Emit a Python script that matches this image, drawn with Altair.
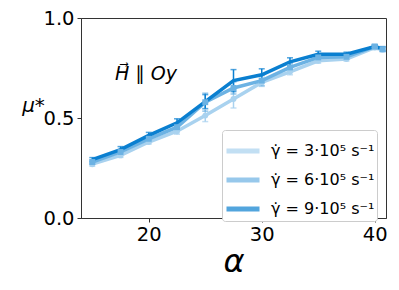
import altair as alt
import pandas as pd

alpha = [15, 17.5, 20, 22.5, 25, 27.5, 30, 32.5, 35, 37.5, 40, 40.7]
mu_3 = [0.269, 0.313, 0.380, 0.434, 0.512, 0.595, 0.678, 0.731, 0.786, 0.795, 0.852, 0.841]
err_3 = [0.010, 0.010, 0.010, 0.015, 0.030, 0.045, 0.020, 0.015, 0.012, 0.010, 0.010, 0.010]
mu_6 = [0.280, 0.330, 0.396, 0.454, 0.579, 0.650, 0.687, 0.753, 0.803, 0.806, 0.857, 0.844]
err_6 = [0.010, 0.010, 0.015, 0.015, 0.045, 0.030, 0.025, 0.020, 0.015, 0.012, 0.010, 0.010]
mu_9 = [0.292, 0.342, 0.413, 0.476, 0.582, 0.687, 0.716, 0.781, 0.819, 0.819, 0.857, 0.847]
err_9 = [0.010, 0.015, 0.015, 0.020, 0.035, 0.055, 0.030, 0.020, 0.015, 0.010, 0.010, 0.010]

labels = ["γ̇ = 3·10⁵ s⁻¹", "γ̇ = 6·10⁵ s⁻¹", "γ̇ = 9·10⁵ s⁻¹"]
colors = ["#a9d2ef", "#6cb2e3", "#0a7fd0"]

ann_x = [17.0]
ann_y = [0.72]
ann_text = ["H⃗ ∥ Oy"]

rows = []
for lab, mus, errs in zip(labels, [mu_3, mu_6, mu_9], [err_3, err_6, err_9]):
    for a, m, e in zip(alpha, mus, errs):
        rows.append({"alpha": a, "mu": m, "lo": m - e, "hi": m + e, "series": lab})
df = pd.DataFrame(rows)
ann = pd.DataFrame({"x": ann_x, "y": ann_y, "t": ann_text})

xs = alt.Scale(domain=[14, 41], nice=False, zero=False)
ys = alt.Scale(domain=[0, 1], nice=False, zero=False)
cs = alt.Scale(domain=labels, range=colors)

X = alt.X("alpha:Q", scale=xs, title="α",
          axis=alt.Axis(values=[20, 30, 40], format="d", titleFontStyle="italic",
                        titleFontSize=32, titleFontWeight="normal", titlePadding=3))
Y = alt.Y("mu:Q", scale=ys, title="μ*",
          axis=alt.Axis(values=[0, 0.5, 1.0], format=".1f", titleAngle=0,
                        titleFontStyle="italic", titleFontSize=20, titleFontWeight="normal",
                        titleX=-48, titleY=93, titleAlign="center", titleBaseline="alphabetic"))
Xp = alt.X("alpha:Q", scale=xs)
C = alt.Color("series:N", scale=cs, sort=labels)

base = alt.Chart(df)

lines = base.mark_line(strokeWidth=3.5).encode(
    x=X, y=Y,
    color=alt.Color("series:N", scale=cs, sort=labels,
                    legend=alt.Legend(title=None, orient="none", legendX=141, legendY=112,
                                      symbolType="stroke", symbolStrokeWidth=5,
                                      symbolSize=1089, labelFontSize=16, labelFont="DejaVu Sans",
                                      rowPadding=-8, fillColor="white", strokeColor="#cccccc",
                                      cornerRadius=3, padding=2, labelOffset=9)),
    order=alt.Order("alpha:Q"),
)

rules = base.mark_rule(strokeWidth=1.5).encode(
    x=Xp, y=alt.Y("lo:Q", scale=ys), y2="hi:Q", color=C)
cap_lo = base.mark_tick(thickness=1.5, size=6, orient="horizontal").encode(
    x=Xp, y=alt.Y("lo:Q", scale=ys), color=C)
cap_hi = base.mark_tick(thickness=1.5, size=6, orient="horizontal").encode(
    x=Xp, y=alt.Y("hi:Q", scale=ys), color=C)

circles = base.transform_filter(alt.datum.series == labels[0]).mark_point(
    filled=True, size=35, opacity=1, shape="circle").encode(
    x=Xp, y=alt.Y("mu:Q", scale=ys), color=C)
squares = base.transform_filter(alt.datum.series == labels[1]).mark_point(
    filled=True, size=35, opacity=1, shape="square").encode(
    x=Xp, y=alt.Y("mu:Q", scale=ys), color=C)

text = alt.Chart(ann).mark_text(align="left", baseline="middle", fontSize=19,
                                fontStyle="italic", font="DejaVu Sans", color="black").encode(
    x=alt.X("x:Q", scale=xs), y=alt.Y("y:Q", scale=ys), text="t:N")

chart = alt.layer(rules, cap_lo, cap_hi, lines, circles, squares, text).properties(
    width=305, height=200,
    autosize=alt.AutoSizeParams(type="none"),
    padding={"left": 73, "top": 10, "right": 5, "bottom": 66},
).configure(font="DejaVu Sans").configure_axis(
    grid=False, domainColor="#333333", tickColor="#333333", tickSize=4,
    labelFontSize=19.5, labelColor="black", labelPadding=3, titleColor="black",
    domainWidth=1,
).configure_view(stroke="#333333", strokeWidth=1)

chart.save("out.html", embed_options={"renderer": "svg", "actions": False})
